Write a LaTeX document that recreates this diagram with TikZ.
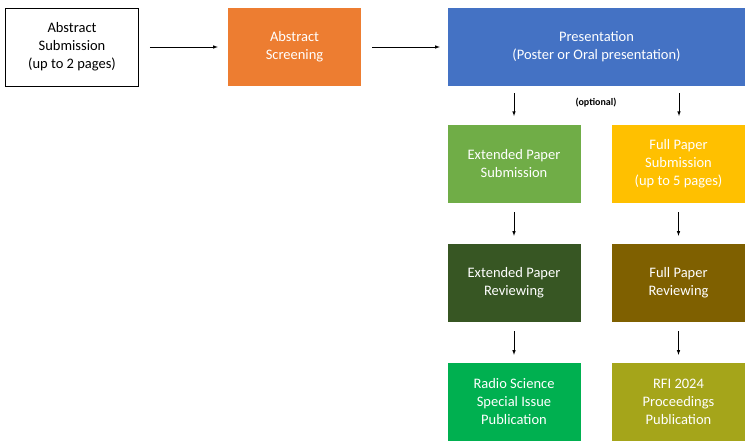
\documentclass[tikz,border=0pt]{standalone}
\usepackage{fontspec}
\setmainfont{Carlito}
\begin{document}
\begin{tikzpicture}[x=1pt,y=-1pt,
 box/.style={draw=none,minimum width=133pt,minimum height=78pt,align=center,text=white,font=\fontsize{14.5}{18}\selectfont,inner sep=2pt},
 arr/.style={-latex,black,line width=0.6pt}]
\useasboundingbox (0,0) rectangle (751,447);
\definecolor{cOr}{HTML}{ED7D31}\definecolor{cBl}{HTML}{4472C4}
\definecolor{cGr}{HTML}{70AD47}\definecolor{cYe}{HTML}{FFC000}
\definecolor{cDg}{HTML}{375623}\definecolor{cBr}{HTML}{7F6000}
\definecolor{cBg}{HTML}{00B050}\definecolor{cOl}{HTML}{A5A51A}
\node[box,draw=black,text=black,line width=0.8pt,minimum width=133pt] (as) at (72,47) {Abstract\\Submission\\(up to 2 pages)};
\node[box,fill=cOr] (sc) at (294.5,47) {Abstract\\Screening};
\node[box,fill=cBl,minimum width=297pt] (pr) at (596.5,47) {Presentation\\(Poster or Oral presentation)};
\node[box,fill=cGr] (es) at (514,164) {Extended Paper\\Submission};
\node[box,fill=cYe] (fs) at (678.5,164) {Full Paper\\Submission\\(up to 5 pages)};
\node[box,fill=cDg] (er) at (514,283) {Extended Paper\\Reviewing};
\node[box,fill=cBr] (fr) at (678.5,283) {Full Paper\\Reviewing};
\node[box,fill=cBg] (rs) at (514,402) {Radio Science\\Special Issue\\Publication};
\node[box,fill=cOl] (rf) at (678.5,402) {RFI 2024\\Proceedings\\Publication};
\node[font=\bfseries\fontsize{10}{12}\selectfont] (op) at (596,103) {(optional)};
\draw[arr] ([xshift=11pt]as.east) -- ([xshift=-10pt]sc.west);
\draw[arr] ([xshift=11pt]sc.east) -- ([xshift=-8pt]pr.west);
\draw[arr] (514,93) -- (514,116);
\draw[arr] (679,93) -- (679,116);
\draw[arr] ([yshift=-9pt]es.south) -- ([yshift=8pt]er.north);
\draw[arr] ([yshift=-9pt]fs.south) -- ([yshift=8pt]fr.north);
\draw[arr] ([yshift=-9pt]er.south) -- ([yshift=8pt]rs.north);
\draw[arr] ([yshift=-9pt]fr.south) -- ([yshift=8pt]rf.north);
\end{tikzpicture}
\end{document}
